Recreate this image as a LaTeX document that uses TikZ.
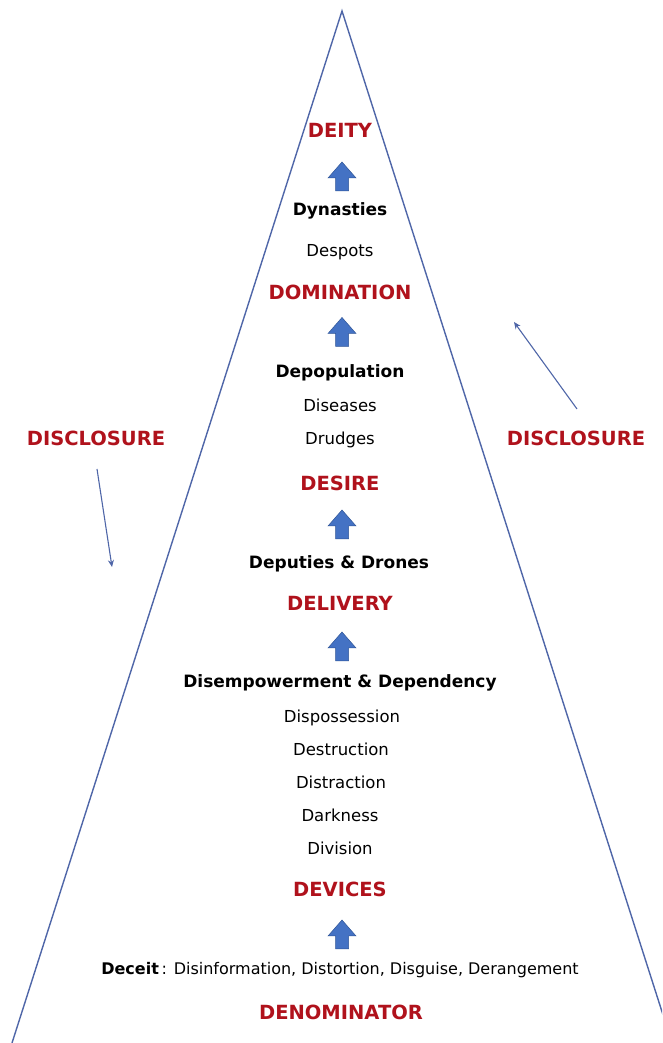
\documentclass[tikz,border=0pt]{standalone}
\usepackage{fontspec}
\setmainfont{DejaVu Sans}
\usetikzlibrary{arrows.meta}
\definecolor{lab}{HTML}{B0121C}
\definecolor{edgeblue}{HTML}{4F66A8}
\definecolor{arrfill}{HTML}{4472C4}
\definecolor{arrdraw}{HTML}{2F5597}
\tikzset{
  redlab/.style={anchor=base, inner sep=0pt, text=lab, font=\fontsize{19.5}{22}\selectfont\bfseries},
  boldtxt/.style={anchor=base, inner sep=0pt, font=\fontsize{17}{20}\selectfont\bfseries},
  regtxt/.style={anchor=base, inner sep=0pt, font=\fontsize{16.5}{19}\selectfont},
  edge/.style={draw=edgeblue, line width=1.4pt},
  thinarrow/.style={draw=edgeblue, line width=1.1pt, -{Stealth[length=7pt,width=6pt]}},
  uparrow/.pic={\path[fill=arrfill, draw=arrdraw, line width=0.5pt, line join=miter]
    (-6.5,-14.5) -- (-6.5,-1.5) -- (-14,-1.5) -- (0,14.5) -- (14,-1.5) -- (6.5,-1.5) -- (6.5,-14.5) -- cycle;}
}
\begin{document}
\begin{tikzpicture}[x=1pt, y=1pt]
\useasboundingbox (0,0) rectangle (662,1043);
\clip (0,0) rectangle (662,1043);
\fill[white] (0,0) rectangle (662,1043);
% triangle
\coordinate (apex) at (342,1032);
\coordinate (bl) at (12,0);
\coordinate (br) at (672,0);
\draw[edge] (bl) -- (apex) -- (br);
% red labels
\node[redlab] (deity) at (340,{1043-138}) {DEITY};
\node[redlab] (domination) at (340,{1043-300}) {DOMINATION};
\node[redlab] (desire) at (340,{1043-491}) {DESIRE};
\node[redlab] (delivery) at (340,{1043-611}) {DELIVERY};
\node[redlab] (devices) at (340,{1043-897}) {DEVICES};
\node[redlab] (denominator) at (341,{1043-1020}) {DENOMINATOR};
\node[redlab] (discL) at (96,{1043-446}) {DISCLOSURE};
\node[redlab] (discR) at (576,{1043-446}) {DISCLOSURE};
% black texts
\node[boldtxt] (dynasties) at (340,{1043-216}) {Dynasties};
\node[regtxt] (despots) at (340,{1043-257}) {Despots};
\node[boldtxt] (depop) at (340,{1043-378}) {Depopulation};
\node[regtxt] (diseases) at (340,{1043-412}) {Diseases};
\node[regtxt] (drudges) at (340,{1043-445}) {Drudges};
\node[boldtxt] (deputies) at (339,{1043-569}) {Deputies \& Drones};
\node[boldtxt] (disemp) at (340,{1043-688}) {Disempowerment \& Dependency};
\node[regtxt] (dispos) at (342,{1043-723}) {Dispossession};
\node[regtxt] (destruct) at (341,{1043-756}) {Destruction};
\node[regtxt] (distract) at (341,{1043-789}) {Distraction};
\node[regtxt] (darkness) at (340,{1043-822}) {Darkness};
\node[regtxt] (division) at (340,{1043-855}) {Division};
\node[anchor=base, inner sep=0pt, font=\fontsize{16}{19}\selectfont] (deceit) at (340,{1043-975})
  {\textbf{Deceit}\,: Disinformation, Distortion, Disguise, Derangement};
% block arrows
\pic at (342,{1043-176.5}) {uparrow};
\pic at (342,{1043-332}) {uparrow};
\pic at (342,{1043-524.5}) {uparrow};
\pic at (342,{1043-646.5}) {uparrow};
\pic at (342,{1043-934.5}) {uparrow};
% disclosure arrows
\coordinate (lstart) at (97,{1043-469});
\coordinate (lend) at (112,{1043-567});
\coordinate (rstart) at (577,{1043-409});
\coordinate (rend) at (514,{1043-322});
\draw[thinarrow] (lstart) -- (lend);
\draw[thinarrow] (rstart) -- (rend);
\end{tikzpicture}
\end{document}
